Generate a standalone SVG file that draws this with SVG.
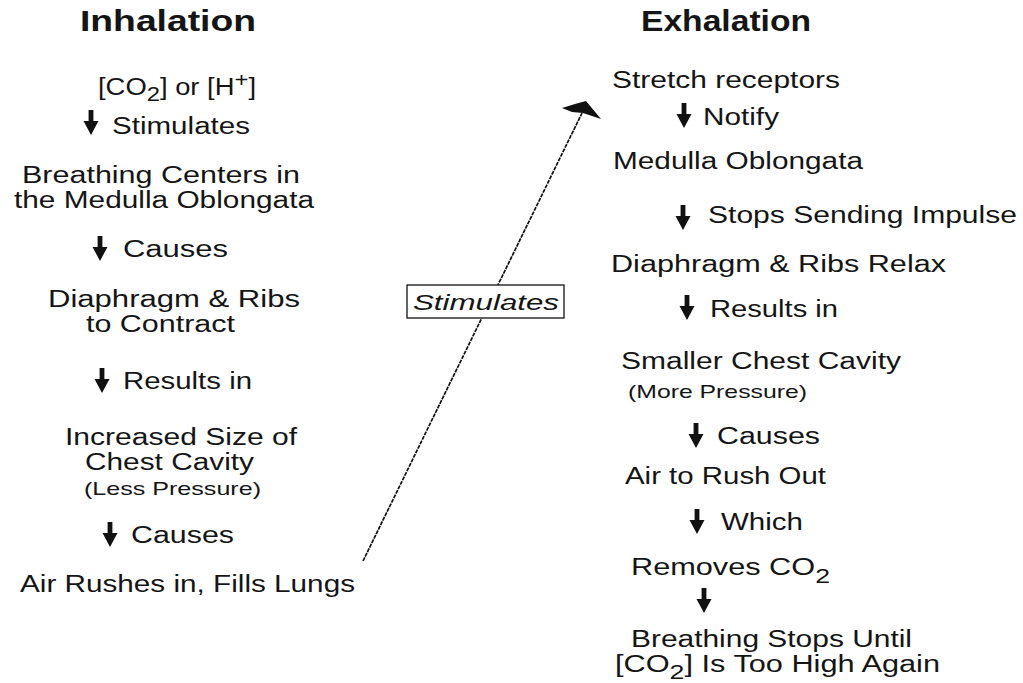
<svg xmlns="http://www.w3.org/2000/svg" width="1023" height="683" viewBox="0 0 1023 683">
<defs>
<style>
text{font-family:"Liberation Sans",Arial,sans-serif;fill:#151515;}
.t{font-size:23px;}
.s{font-size:19px;}
.h{font-size:29px;font-weight:bold;}
.sub{font-size:20px;}
.conn{stroke:#111;stroke-width:1.7;fill:none;stroke-dasharray:4 1;}
</style>
<path id="dn" d="M-2.4,0 H2.4 V11 H7.5 L0,25 L-7.5,11 H-2.4 Z" fill="#111"/>
</defs>
<rect width="1023" height="683" fill="#fff"/>

<g id="inhalation">
<text class="h" x="80" y="31" textLength="176" lengthAdjust="spacingAndGlyphs">Inhalation</text>
</g>
<g id="exhalation">
<text class="h" x="641" y="31" textLength="170" lengthAdjust="spacingAndGlyphs">Exhalation</text>
</g>

<g id="co2-h">
<text class="t" x="98" y="95" textLength="158" lengthAdjust="spacingAndGlyphs">[CO<tspan class="sub" dy="6">2</tspan><tspan dy="-6">] or [H</tspan><tspan class="sub" dy="-8">+</tspan><tspan dy="8">]</tspan></text>
</g>
<g id="l-stimulates"><use href="#dn" x="91" y="110"/><text class="t" x="112" y="134" textLength="138" lengthAdjust="spacingAndGlyphs">Stimulates</text></g>
<g id="breathing-centers">
<text class="t" x="22" y="183" textLength="278" lengthAdjust="spacingAndGlyphs">Breathing Centers in</text>
<text class="t" x="14" y="208" textLength="300" lengthAdjust="spacingAndGlyphs">the Medulla Oblongata</text>
</g>
<g id="l-causes1"><use href="#dn" x="100" y="236"/><text class="t" x="123" y="257" textLength="105" lengthAdjust="spacingAndGlyphs">Causes</text></g>
<g id="diaphragm-contract">
<text class="t" x="48" y="307" textLength="252" lengthAdjust="spacingAndGlyphs">Diaphragm &amp; Ribs</text>
<text class="t" x="86" y="332" textLength="149" lengthAdjust="spacingAndGlyphs">to Contract</text>
</g>
<g id="l-results"><use href="#dn" x="102" y="368"/><text class="t" x="123" y="389" textLength="129" lengthAdjust="spacingAndGlyphs">Results in</text></g>
<g id="increased-size">
<text class="t" x="65" y="445" textLength="232" lengthAdjust="spacingAndGlyphs">Increased Size of</text>
<text class="t" x="85" y="470" textLength="169" lengthAdjust="spacingAndGlyphs">Chest Cavity</text>
<text class="s" x="84" y="495" textLength="177" lengthAdjust="spacingAndGlyphs">(Less Pressure)</text>
</g>
<g id="l-causes2"><use href="#dn" x="110" y="522"/><text class="t" x="131" y="543" textLength="103" lengthAdjust="spacingAndGlyphs">Causes</text></g>
<g id="air-rushes">
<text class="t" x="20" y="592" textLength="335" lengthAdjust="spacingAndGlyphs">Air Rushes in, Fills Lungs</text>
</g>

<g id="stretch"><text class="t" x="612" y="88" textLength="228" lengthAdjust="spacingAndGlyphs">Stretch receptors</text></g>
<g id="r-notify"><use href="#dn" x="684" y="103"/><text class="t" x="703" y="125" textLength="76" lengthAdjust="spacingAndGlyphs">Notify</text></g>
<g id="medulla"><text class="t" x="613" y="169" textLength="250" lengthAdjust="spacingAndGlyphs">Medulla Oblongata</text></g>
<g id="r-stops"><use href="#dn" x="683" y="205"/><text class="t" x="708" y="223" textLength="309" lengthAdjust="spacingAndGlyphs">Stops Sending Impulse</text></g>
<g id="relax"><text class="t" x="611" y="272" textLength="335" lengthAdjust="spacingAndGlyphs">Diaphragm &amp; Ribs Relax</text></g>
<g id="r-results"><use href="#dn" x="687" y="295"/><text class="t" x="710" y="317" textLength="128" lengthAdjust="spacingAndGlyphs">Results in</text></g>
<g id="smaller">
<text class="t" x="621" y="369" textLength="280" lengthAdjust="spacingAndGlyphs">Smaller Chest Cavity</text>
<text class="s" x="628" y="398" textLength="179" lengthAdjust="spacingAndGlyphs">(More Pressure)</text>
</g>
<g id="r-causes"><use href="#dn" x="696" y="423"/><text class="t" x="717" y="444" textLength="103" lengthAdjust="spacingAndGlyphs">Causes</text></g>
<g id="rush-out"><text class="t" x="625" y="484" textLength="201" lengthAdjust="spacingAndGlyphs">Air to Rush Out</text></g>
<g id="r-which"><use href="#dn" x="697" y="509"/><text class="t" x="721" y="530" textLength="82" lengthAdjust="spacingAndGlyphs">Which</text></g>
<g id="removes"><text class="t" x="631" y="575" textLength="199" lengthAdjust="spacingAndGlyphs">Removes CO<tspan class="sub" dy="8">2</tspan></text></g>
<g id="r-final"><use href="#dn" x="704" y="588"/></g>
<g id="stops-until">
<text class="t" x="631" y="647" textLength="281" lengthAdjust="spacingAndGlyphs">Breathing Stops Until</text>
<text class="t" x="615" y="672" textLength="325" lengthAdjust="spacingAndGlyphs">[CO<tspan class="sub" dy="7">2</tspan><tspan dy="-7">] Is Too High Again</tspan></text>
</g>

<g id="connectors">
<line class="conn" x1="363" y1="561" x2="582" y2="113"/>
<polygon points="562,108 575,104 586,101 601,119 583,113 572,112" fill="#111"/>
<rect x="407" y="285" width="157" height="33" fill="#fff" stroke="#111" stroke-width="1.3"/>
<text x="413" y="310" font-size="22" font-style="italic" textLength="146" lengthAdjust="spacingAndGlyphs">Stimulates</text>
</g>
</svg>
